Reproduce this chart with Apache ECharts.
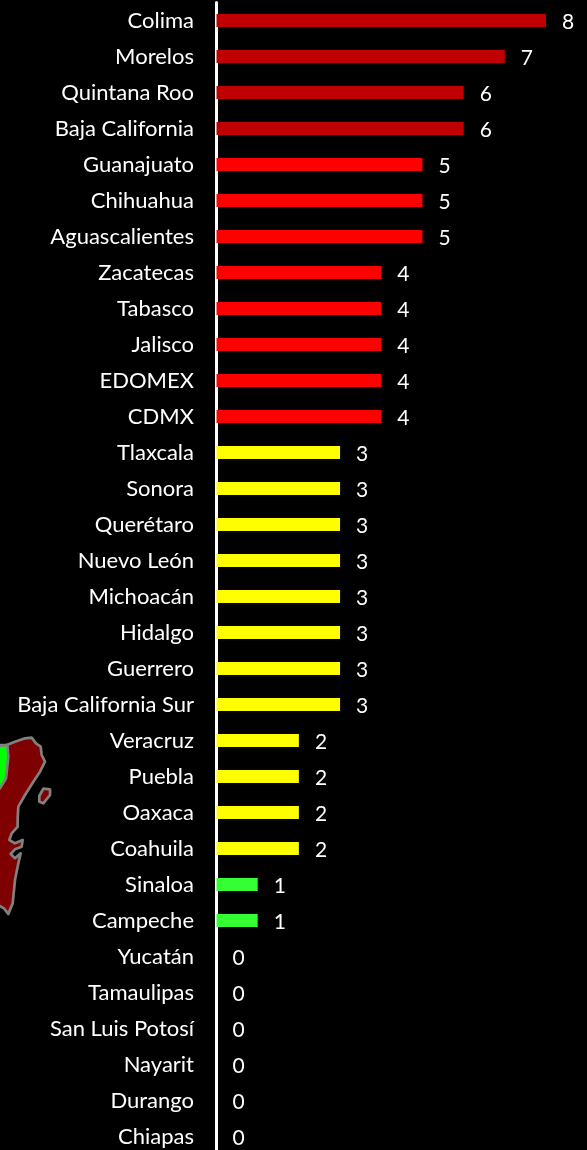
<!DOCTYPE html>
<html><head><meta charset="utf-8">
<style>html,body{margin:0;padding:0;background:#000;overflow:hidden}#c{width:587px;height:1150px}</style>
<script src="https://cdn.jsdelivr.net/npm/echarts@6/dist/echarts.min.js"></script>
</head><body><div id="c"></div>
<script>
const categories = ["Colima","Morelos","Quintana Roo","Baja California","Guanajuato","Chihuahua","Aguascalientes","Zacatecas","Tabasco","Jalisco","EDOMEX","CDMX","Tlaxcala","Sonora","Querétaro","Nuevo León","Michoacán","Hidalgo","Guerrero","Baja California Sur","Veracruz","Puebla","Oaxaca","Coahuila","Sinaloa","Campeche","Yucatán","Tamaulipas","San Luis Potosí","Nayarit","Durango","Chiapas"];
const values = [8,7,6,6,5,5,5,4,4,4,4,4,3,3,3,3,3,3,3,3,2,2,2,2,1,1,0,0,0,0,0,0];
const tierColor = v => v >= 6 ? "#C00000" : v >= 4 ? "#FF0000" : v >= 2 ? "#FFFF00" : "#33FF33";
// Decorative map fragment (zoomed-crop coordinates, 3x, origin 0,690)
const peninsula = [[-6,165],[20,165],[45,155],[75,145],[95,143],[108,160],[122,170],[125,195],[135,215],[120,245],[100,275],[75,315],[55,350],[53,385],[53,410],[35,430],[28,450],[45,460],[68,450],[65,470],[45,478],[32,492],[45,505],[62,490],[55,520],[45,570],[38,640],[25,672],[12,655],[-6,645]];
const greenPart = [[-6,168],[22,165],[25,200],[18,265],[0,295],[-6,300]];
const island = [[130,296],[150,298],[150,315],[130,340],[118,335],[118,318]];
const toPx = pts => pts.map(p => [p[0]/3, 690 + p[1]/3]);

const chart = echarts.init(document.getElementById('c'), null, {renderer:'canvas'});
chart.setOption({
  backgroundColor:'#000',
  animation:false,
  grid:{left:216.5,top:2.5,width:329.5,height:1152,containLabel:false,outerBoundsMode:'none'},
  xAxis:{type:'value',min:0,max:8,show:false},
  yAxis:{type:'category',inverse:true,data:categories,
    axisLine:{show:true,lineStyle:{color:'#fff',width:3}},
    axisTick:{show:false},
    axisLabel:{color:'#fff',fontFamily:'Lato',fontSize:22,margin:22.5,interval:0}
  },
  series:[{type:'bar',barWidth:13,
    data:values.map(v=>({value:v,itemStyle:{color:tierColor(v)}})),
    label:{show:true,position:'right',distance:16,color:'#fff',fontFamily:'Lato',fontSize:21,offset:[0,2]}
  }],
  graphic:[
    {type:'polygon',z:1,shape:{points:toPx(peninsula)},style:{fill:'#7F0000',stroke:'#808080',lineWidth:2.7,lineJoin:'round'}},
    {type:'polygon',z:2,shape:{points:toPx(greenPart)},style:{fill:'#00FF00',stroke:'#808080',lineWidth:2.7,lineJoin:'round'}},
    {type:'polygon',z:1,shape:{points:toPx(island)},style:{fill:'#7F0000',stroke:'#808080',lineWidth:2.7,lineJoin:'round'}}
  ]
});
</script></body></html>
